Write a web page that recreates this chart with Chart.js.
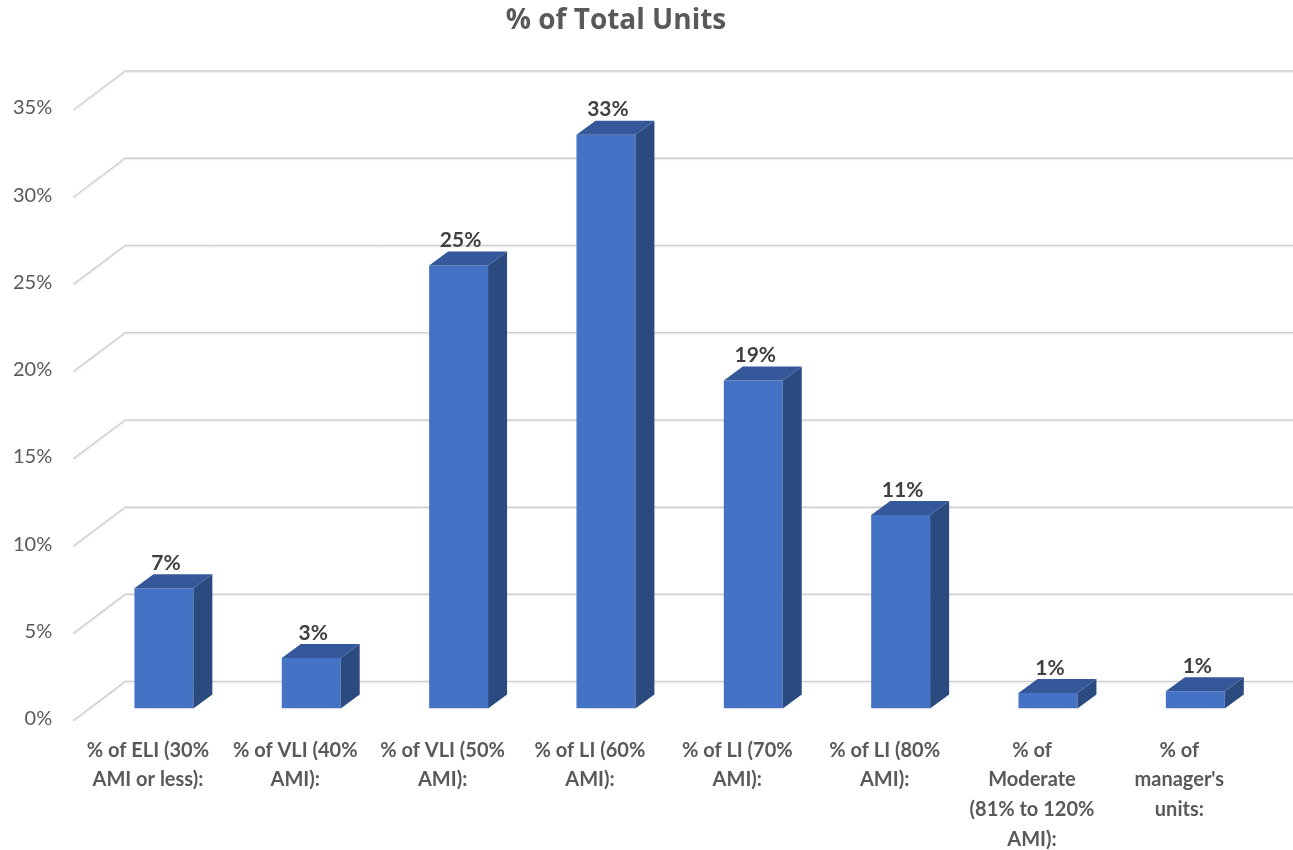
<!DOCTYPE html>
<html>
<head>
<meta charset="utf-8">
<script src="https://cdn.jsdelivr.net/npm/chart.js@4"></script>
<style>
  html, body { margin: 0; padding: 0; background: #fff; }
  #wrap { width: 1293px; height: 850px; }
</style>
</head>
<body>
<div id="wrap"><canvas id="chart"></canvas></div>
<script>
// chart data
const chartTitle = "% of Total Units";
const categories = [
    ["% of ELI (30%", "AMI or less):"],
    ["% of VLI (40%", "AMI):"],
    ["% of VLI (50%", "AMI):"],
    ["% of LI (60%", "AMI):"],
    ["% of LI (70%", "AMI):"],
    ["% of LI (80%", "AMI):"],
    ["% of", "Moderate", "(81% to 120%", "AMI):"],
    ["% of", "manager's", "units:"]
];
const shares = [6.9, 2.9, 25.4, 32.9, 18.8, 11.1, 0.9, 1.0];
const shareLabels = ["7%", "3%", "25%", "33%", "19%", "11%", "1%", "1%"];
const yMax = 35;
const yStep = 5;

// 3d look
const depthX = 19, depthY = -14;       // bar depth
const wallX = 52, wallY = -39;         // floor / wall depth
const floorShift = 12;                 // front floor edge is below bar base

const fontFamily = "Lato, 'Open Sans', sans-serif";

const threeD = {
    id: "threeD",
    beforeDatasetsDraw(chart) {
        const ctx = chart.ctx;
        const y = chart.scales.y;
        const area = chart.chartArea;
        const x0 = area.left - 17;
        ctx.save();
        for (let v = 0; v <= yMax; v += yStep) {
            const py = y.getPixelForValue(v) + floorShift;
            ctx.beginPath();
            ctx.moveTo(x0, py);
            ctx.lineTo(x0 + wallX, py + wallY);
            ctx.lineTo(chart.width, py + wallY);
            ctx.strokeStyle = "#CFCFCF";
            ctx.lineWidth = 1.5;
            ctx.stroke();
            ctx.beginPath();
            ctx.moveTo(x0 + 1, py + 1.5);
            ctx.lineTo(x0 + wallX, py + wallY + 1.5);
            ctx.lineTo(chart.width, py + wallY + 1.5);
            ctx.strokeStyle = "#EDEDED";
            ctx.lineWidth = 1;
            ctx.stroke();
        }
        ctx.restore();
    },
    afterDatasetsDraw(chart) {
        const ctx = chart.ctx;
        const meta = chart.getDatasetMeta(0);
        ctx.save();
        meta.data.forEach((bar, i) => {
            const p = bar.getProps(["x", "y", "base", "width"], true);
            const l = p.x - p.width / 2, r = p.x + p.width / 2;
            // side
            ctx.beginPath();
            ctx.moveTo(r, p.y);
            ctx.lineTo(r + depthX, p.y + depthY);
            ctx.lineTo(r + depthX, p.base + depthY);
            ctx.lineTo(r, p.base);
            ctx.closePath();
            ctx.fillStyle = "#2B4A80";
            ctx.fill();
            // top
            ctx.beginPath();
            ctx.moveTo(l, p.y);
            ctx.lineTo(l + depthX, p.y + depthY);
            ctx.lineTo(r + depthX, p.y + depthY);
            ctx.lineTo(r, p.y);
            ctx.closePath();
            ctx.fillStyle = "#34589A";
            ctx.fill();
            // value label
            ctx.fillStyle = "#404040";
            ctx.font = "bold 21px " + fontFamily;
            ctx.textAlign = "center";
            ctx.textBaseline = "middle";
            ctx.fillText(shareLabels[i], p.x + 2, p.y - 25);
        });
        ctx.restore();
    },
    afterDraw(chart) {
        const ctx = chart.ctx;
        ctx.save();
        ctx.fillStyle = "#595959";
        ctx.font = "bold 28px 'Open Sans', sans-serif";
        ctx.textAlign = "center";
        ctx.textBaseline = "middle";
        ctx.fillText(chartTitle, 616, 21);
        ctx.restore();
    }
};

new Chart(document.getElementById("chart"), {
    type: "bar",
    data: {
        labels: categories,
        datasets: [{
            data: shares,
            backgroundColor: "#4472C4",
            barPercentage: 0.4,
            categoryPercentage: 1.0
        }]
    },
    options: {
        responsive: true,
        maintainAspectRatio: false,
        animation: false,
        layout: { autoPadding: false, padding: { left: -25, right: 24, top: 98, bottom: -31 } },
        plugins: {
            legend: { display: false },
            tooltip: { enabled: false }
        },
        scales: {
            x: {
                grid: { display: false, drawTicks: false },
                border: { display: false },
                ticks: {
                    color: "#595959",
                    font: { family: fontFamily, size: 20, weight: "bold", lineHeight: 1.48 },
                    padding: 27,
                    maxRotation: 0,
                    autoSkip: false,
                    labelOffset: -16
                }
            },
            y: {
                min: 0,
                max: yMax,
                grid: { display: false, drawTicks: false },
                border: { display: false },
                ticks: {
                    stepSize: yStep,
                    color: "#595959",
                    font: { family: fontFamily, size: 20 },
                    padding: 38,
                    labelOffset: 10,
                    callback: v => v + "%"
                }
            }
        }
    },
    plugins: [threeD]
});
</script>
</body>
</html>
